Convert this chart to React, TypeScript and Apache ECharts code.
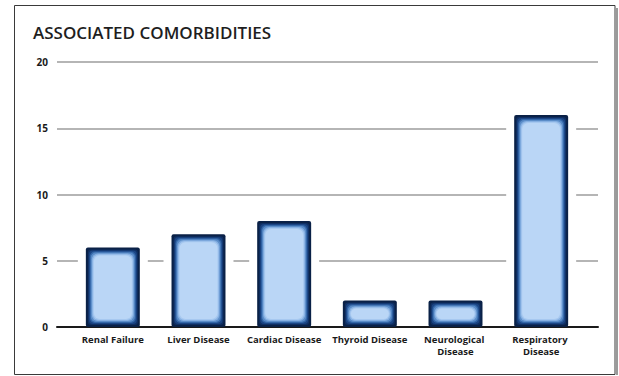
import React, { useEffect, useRef } from "react";
import * as echarts from "echarts";

const categories = [
  "Renal Failure",
  "Liver Disease",
  "Cardiac Disease",
  "Thyroid Disease",
  "Neurological Disease",
  "Respiratory Disease",
];
const counts = [6, 7, 8, 2, 2, 16];
const yTicks = { min: 0, max: 20, interval: 5 };

// inner-glow rings, outermost first: [inset px, colour, corner radius]
const glowRings: [number, string, number][] = [
  [0, "#0a2147", 2],
  [2, "#0f2f63", 3],
  [3, "#1b4584", 4],
  [4, "#3467a8", 5],
  [5, "#5a8cc8", 5],
  [6, "#86b0e2", 6],
  [7, "#a6c8f0", 6],
  [8, "#bad6f6", 6],
];

const FONT = "'Open Sans', 'DejaVu Sans', sans-serif";

export default function App() {
  const ref = useRef<HTMLDivElement>(null);

  useEffect(() => {
    document.body.style.margin = "0";
    const chart = echarts.init(ref.current!, undefined, { renderer: "svg" });

    const renderBar = (params: any, api: any) => {
      const idx = api.value(0);
      const top = api.coord([idx, api.value(1)]);
      const base = api.coord([idx, 0]);
      const w = api.size([1, 0])[0] * 0.63;
      const x0 = top[0] - w / 2;
      const y0 = top[1];
      const h = base[1] - top[1];
      const children: any[] = [
        {
          type: "rect",
          shape: { x: x0 - 8, y: y0 - 5, width: w + 16, height: h + 4 },
          style: { fill: "#ffffff" },
        },
      ];
      glowRings.forEach(([inset, color, r]) => {
        children.push({
          type: "rect",
          shape: {
            x: x0 + inset,
            y: y0 + inset,
            width: Math.max(w - inset * 2, 0),
            height: Math.max(h - inset * 2, 0),
            r,
          },
          style: { fill: color },
        });
      });
      return { type: "group", children };
    };

    chart.setOption({
      animation: false,
      backgroundColor: "#ffffff",
      graphic: [
        {
          type: "rect",
          shape: { x: 616, y: 8, width: 2, height: 367 },
          style: { fill: "#9a9a9a" },
          silent: true,
        },
        {
          type: "rect",
          shape: { x: 14.5, y: 5.5, width: 600.5, height: 369 },
          style: { fill: "none", stroke: "#3a3a3a", lineWidth: 1 },
          silent: true,
        },
        {
          type: "text",
          left: 33,
          top: 24,
          style: {
            text: "ASSOCIATED COMORBIDITIES",
            fill: "#1e1e1e",
            font: `600 17px ${FONT}`,
          },
        },
      ],
      grid: [
        { left: 57, right: 21, top: 62, bottom: 49 },
        { left: 70, right: 35, top: 62, bottom: 49 },
      ],
      xAxis: [
        {
          gridIndex: 0,
          type: "value",
          min: 0,
          max: 1,
          axisLine: { show: true, onZero: false, lineStyle: { color: "#1a1a1a", width: 2 } },
          axisTick: { show: false },
          axisLabel: { show: false },
          splitLine: { show: false },
        },
        {
          gridIndex: 1,
          type: "category",
          data: categories,
          axisLine: { show: false },
          axisTick: { show: false },
          axisLabel: {
            margin: 6,
            color: "#1a1a1a",
            fontFamily: FONT,
            fontWeight: 700,
            fontSize: 9.5,
            lineHeight: 12,
            width: 80,
            overflow: "break",
            interval: 0,
          },
        },
      ],
      yAxis: [
        {
          gridIndex: 0,
          type: "value",
          ...yTicks,
          axisLine: { show: false },
          axisTick: { show: false },
          axisLabel: {
            margin: 9,
            color: "#1a1a1a",
            fontFamily: FONT,
            fontWeight: 700,
            fontSize: 10,
          },
          splitLine: { lineStyle: { color: "#9c9c9c", width: 1.5 } },
        },
        {
          gridIndex: 1,
          type: "value",
          ...yTicks,
          show: false,
          splitLine: { show: false },
        },
      ],
      series: [
        {
          type: "custom",
          xAxisIndex: 1,
          yAxisIndex: 1,
          data: counts.map((v, i) => [i, v]),
          renderItem: renderBar,
          z: 1,
        },
      ],
    });

    return () => chart.dispose();
  }, []);

  return <div ref={ref} style={{ width: 619, height: 376 }} />;
}
